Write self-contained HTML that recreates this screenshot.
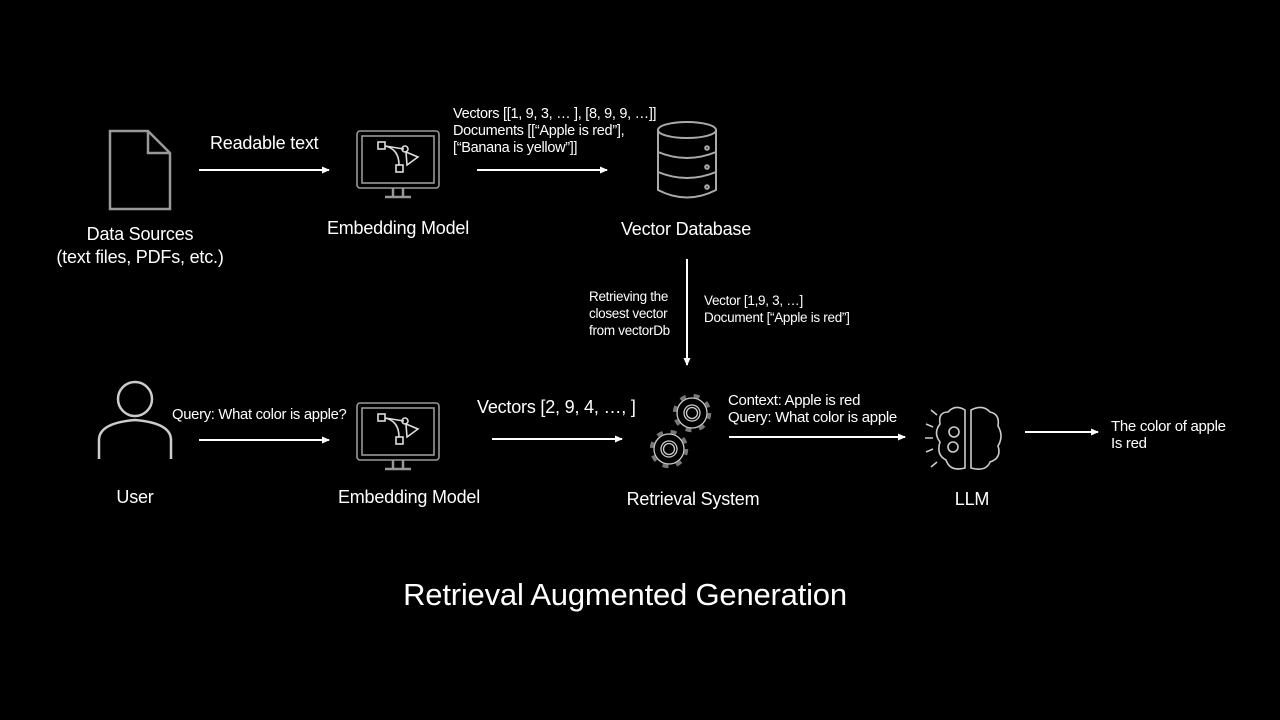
<!DOCTYPE html>
<html><head><meta charset="utf-8"><style>
body{margin:0;background:#000;width:1280px;height:720px;overflow:hidden;position:relative;font-family:"Liberation Sans",sans-serif;color:#fff}
.t{position:absolute;white-space:nowrap;line-height:1}
.c{transform:translateX(-50%)}
.l{font-size:18px;letter-spacing:-0.2px}
.s{font-size:14.5px;letter-spacing:-0.3px;line-height:17px}
svg{position:absolute;left:0;top:0}
</style></head><body>
<svg width="1280" height="720" viewBox="0 0 1280 720">
<defs>
<marker id="a" markerWidth="8" markerHeight="8" refX="7" refY="4" orient="auto" markerUnits="userSpaceOnUse"><path d="M0,0.5 L8,4 L0,7.5z" fill="#fff"/></marker>
<g id="mon" fill="none" stroke="#999" stroke-width="1.6">
<rect x="0" y="0" width="82" height="57" rx="3"/>
<rect x="5" y="5" width="72" height="47"/>
<path d="M36 57 v8 M46 57 v8 M28 66 h26" stroke-width="2.5"/>
<rect x="21" y="11" width="7" height="7" stroke="#ddd"/>
<rect x="39" y="34" width="7" height="7" stroke="#ddd"/>
<path d="M28 15 Q42 18 42 34" stroke="#ddd"/>
<path d="M28 15 L47 18" stroke="#ddd"/>
<circle cx="48" cy="18" r="3" stroke="#ddd"/>
<path d="M49 21 L50 34 L61 26 Z" stroke="#ddd"/>
</g>
<g id="gear" fill="none" stroke="#ccc">
<circle r="15" stroke-width="1.3"/>
<circle r="17.5" stroke-width="3.5" stroke-dasharray="6 8" stroke="#777"/>
<circle r="8" stroke-width="1.3"/>
<circle r="5.5" stroke-width="1.3"/>
</g>
</defs>
<g stroke="#fff" stroke-width="2" marker-end="url(#a)">
<line x1="199" y1="170" x2="329" y2="170"/>
<line x1="477" y1="170" x2="607" y2="170"/>
<line x1="687" y1="259" x2="687" y2="365"/>
<line x1="199" y1="440" x2="329" y2="440"/>
<line x1="492" y1="439" x2="622" y2="439"/>
<line x1="729" y1="437" x2="905" y2="437"/>
<line x1="1025" y1="432" x2="1098" y2="432"/>
</g>
<path d="M110 131 H148 L170 153 V209 H110 Z M148 131 V153 H170" fill="none" stroke="#999" stroke-width="2.5"/>
<use href="#mon" x="357" y="131"/>
<use href="#mon" x="357" y="403"/>
<g fill="none" stroke="#aaa" stroke-width="2">
<ellipse cx="687" cy="130" rx="29" ry="8"/>
<path d="M658 130 V190 Q687 205 716 190 V130"/>
<path d="M658 152 Q687 164 716 152 M658 172 Q687 184 716 172"/>
<circle cx="707" cy="148" r="1.8"/><circle cx="707" cy="167" r="1.8"/><circle cx="707" cy="187" r="1.8"/>
</g>
<g fill="none" stroke="#ccc" stroke-width="2.5">
<circle cx="135" cy="399" r="17"/>
<path d="M99 459 V440 Q99 423 135 420 Q171 423 171 440 V459"/>
</g>
<use href="#gear" x="692" y="413"/>
<use href="#gear" x="669" y="449"/>
<g fill="none" stroke="#ccc" stroke-width="1.6">
<path d="M965 410 Q955 404 948 412 Q938 412 940 424 Q933 433 940 442 Q936 455 946 460 Q950 472 965 468 Z"/>
<path d="M971 410 Q983 404 990 412 Q1000 414 998 426 Q1004 436 998 446 Q1002 458 990 462 Q986 472 971 468 Z"/>
<circle cx="954" cy="432" r="5"/><circle cx="953" cy="447" r="5"/>
<path d="M931 410 l6 5 M926 424 l7 3 M925 438 h8 M926 452 l7 -3 M931 467 l6 -5"/>
</g>
</svg>
<div class="t l" style="left:210px;top:134px">Readable text</div>
<div class="t s" style="left:453px;top:106px">Vectors [[1, 9, 3, … ], [8, 9, 9, …]]<br>Documents [[“Apple is red”],<br>[“Banana is yellow”]]</div>
<div class="t l c" style="left:140px;top:223px;text-align:center;line-height:23px">Data Sources<br>(text files, PDFs, etc.)</div>
<div class="t l c" style="left:398px;top:219px">Embedding Model</div>
<div class="t l c" style="left:686px;top:220px">Vector Database</div>
<div class="t s" style="left:589px;top:288px;font-size:13.5px">Retrieving the<br>closest vector<br>from vectorDb</div>
<div class="t s" style="left:704px;top:292px;font-size:13.5px">Vector [1,9, 3, …]<br>Document [“Apple is red”]</div>
<div class="t s" style="left:172px;top:407px;font-size:14.8px">Query: What color is apple?</div>
<div class="t l" style="left:477px;top:398px">Vectors [2, 9, 4, …, ]</div>
<div class="t s" style="left:728px;top:392px;font-size:15px">Context: Apple is red<br>Query: What color is apple</div>
<div class="t s" style="left:1111px;top:418px;font-size:15px">The color of apple<br>Is red</div>
<div class="t l c" style="left:135px;top:488px">User</div>
<div class="t l c" style="left:409px;top:488px">Embedding Model</div>
<div class="t l c" style="left:693px;top:490px">Retrieval System</div>
<div class="t l c" style="left:972px;top:490px">LLM</div>
<div class="t c" style="left:625px;top:579px;font-size:31px;letter-spacing:-0.2px">Retrieval Augmented Generation</div>
</body></html>
